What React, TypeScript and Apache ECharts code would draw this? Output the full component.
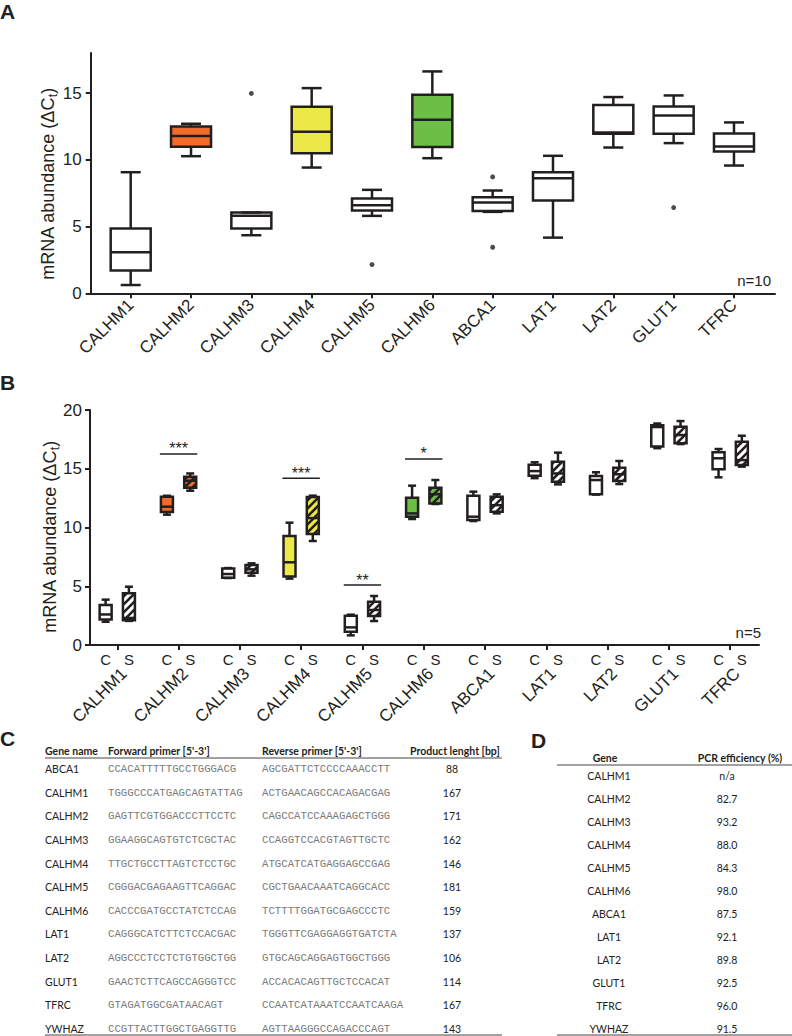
import React, { useEffect, useRef } from 'react';
import * as echarts from 'echarts';

// ---------------- DATA ----------------
const genes = ['CALHM1', 'CALHM2', 'CALHM3', 'CALHM4', 'CALHM5', 'CALHM6', 'ABCA1', 'LAT1', 'LAT2', 'GLUT1', 'TFRC'];

// Panel A box plots: [min, q1, median, q3, max]
const boxA = [
  [0.62, 1.7, 3.07, 4.85, 9.07],
  [10.27, 10.97, 11.78, 12.5, 12.7],
  [4.35, 4.85, 5.8, 6.05, 6.05],
  [9.42, 10.5, 12.1, 13.97, 15.37],
  [5.8, 6.2, 6.6, 7.1, 7.75],
  [10.12, 10.95, 13.0, 14.87, 16.62],
  [6.1, 6.17, 6.8, 7.2, 7.7],
  [4.17, 6.95, 8.62, 9.07, 10.3],
  [10.92, 11.95, 12.05, 14.1, 14.7],
  [11.25, 11.95, 13.32, 14.0, 14.82],
  [9.57, 10.62, 11.0, 11.97, 12.8],
];
// Panel A outliers: [gene position (1-based), value]
const outliersA = [[3, 14.97], [5, 2.15], [7, 8.72], [7, 3.45], [10, 6.42]];

// Panel B: control (C) and stimulated (S) box plots: [min, q1, median, q3, max]
const boxBControl = [
  [1.98, 2.18, 2.6, 3.4, 3.86],
  [11.09, 11.32, 11.77, 12.62, 12.7],
  [5.7, 5.73, 6.04, 6.52, 6.55],
  [5.65, 5.82, 7.04, 9.28, 10.41],
  [0.82, 1.13, 1.5, 2.5, 2.58],
  [10.72, 10.92, 11.2, 12.54, 13.56],
  [10.55, 10.64, 10.92, 12.71, 13.05],
  [14.2, 14.4, 14.8, 15.35, 15.55],
  [12.8, 12.82, 14.04, 14.38, 14.7],
  [16.75, 16.9, 18.55, 18.7, 18.85],
  [14.27, 14.95, 15.89, 16.4, 16.68],
];
const boxBStim = [
  [2.05, 2.1, 2.3, 4.4, 4.96],
  [13.13, 13.39, 13.98, 14.32, 14.6],
  [5.9, 6.15, 6.44, 6.8, 6.95],
  [8.85, 9.45, 10.8, 12.6, 12.71],
  [2.04, 2.47, 2.98, 3.69, 4.17],
  [12.0, 12.05, 12.83, 13.39, 14.04],
  [11.2, 11.35, 11.9, 12.62, 12.82],
  [13.67, 13.9, 14.6, 15.6, 16.37],
  [13.7, 13.96, 14.53, 15.09, 15.66],
  [17.1, 17.17, 17.87, 18.58, 19.06],
  [15.18, 15.32, 15.74, 17.3, 17.81],
];
// fill colour index per gene (0 white, 1 orange, 2 yellow, 3 green)
const fillIndex = [0, 1, 0, 2, 0, 3, 0, 0, 0, 0, 0];

// significance brackets in panel B
const sigGene = [2, 4, 5, 6];
const sigLevel = [16.26, 14.2, 5.1, 15.83];
const sigLabel = ['***', '***', '**', '*'];

const ticksA = [0, 5, 10, 15];

// Table C
const tableGenes = ['ABCA1', 'CALHM1', 'CALHM2', 'CALHM3', 'CALHM4', 'CALHM5', 'CALHM6', 'LAT1', 'LAT2', 'GLUT1', 'TFRC', 'YWHAZ'];
const forwardPrimers = [
  'CCACATTTTTGCCTGGGACG', 'TGGGCCCATGAGCAGTATTAG', 'GAGTTCGTGGACCCTTCCTC', 'GGAAGGCAGTGTCTCGCTAC',
  'TTGCTGCCTTAGTCTCCTGC', 'CGGGACGAGAAGTTCAGGAC', 'CACCCGATGCCTATCTCCAG', 'CAGGGCATCTTCTCCACGAC',
  'AGGCCCTCCTCTGTGGCTGG', 'GAACTCTTCAGCCAGGGTCC', 'GTAGATGGCGATAACAGT', 'CCGTTACTTGGCTGAGGTTG',
];
const reversePrimers = [
  'AGCGATTCTCCCCAAACCTT', 'ACTGAACAGCCACAGACGAG', 'CAGCCATCCAAAGAGCTGGG', 'CCAGGTCCACGTAGTTGCTC',
  'ATGCATCATGAGGAGCCGAG', 'CGCTGAACAAATCAGGCACC', 'TCTTTTGGATGCGAGCCCTC', 'TGGGTTCGAGGAGGTGATCTA',
  'GTGCAGCAGGAGTGGCTGGG', 'ACCACACAGTTGCTCCACAT', 'CCAATCATAAATCCAATCAAGA', 'AGTTAAGGGCCAGACCCAGT',
];
const productLengths = [88, 167, 171, 162, 146, 181, 159, 137, 106, 114, 167, 143];

// Table D
const effGenes = ['CALHM1', 'CALHM2', 'CALHM3', 'CALHM4', 'CALHM5', 'CALHM6', 'ABCA1', 'LAT1', 'LAT2', 'GLUT1', 'TFRC', 'YWHAZ'];
const efficiencies = ['n/a', '82.7', '93.2', '88.0', '84.3', '98.0', '87.5', '92.1', '89.8', '92.5', '96.0', '91.5'];

// ---------------- STYLE ----------------
const INK = '#231f20';
const FILLS = ['#ffffff', '#f26b2b', '#ece847', '#6dbe45'];
const SANS = "'Liberation Sans', Arial, sans-serif";
const TFONT = "Lato, 'Open Sans', sans-serif";
const MONO = "'Liberation Mono', monospace";
const CS_OFF = 0.19;
const SIG_HALF = 0.305;

function boxRenderer(boxW: number, capW: number, lw: number, step: number) {
  return (params: any, api: any) => {
    const x = api.value(0);
    const v = [1, 2, 3, 4, 5].map((i) => api.value(i));
    const fill = FILLS[api.value(6)];
    const hatched = api.value(7) === 1;
    const pMin = api.coord([x, v[0]]);
    const pQ1 = api.coord([x, v[1]]);
    const pMed = api.coord([x, v[2]]);
    const pQ3 = api.coord([x, v[3]]);
    const pMax = api.coord([x, v[4]]);
    const cx = pMin[0];
    const x0 = cx - boxW / 2;
    const y0 = pQ3[1];
    const w = boxW;
    const h = pQ1[1] - pQ3[1];
    const children: any[] = [];
    const ln = (x1: number, y1: number, x2: number, y2: number, width = lw) => ({
      type: 'line',
      shape: { x1, y1, x2, y2 },
      style: { stroke: INK, lineWidth: width },
    });
    children.push({ type: 'rect', shape: { x: x0, y: y0, width: w, height: h }, style: { fill, stroke: 'none' } });
    if (hatched) {
      const cStart = Math.ceil((x0 + y0) / step);
      const cEnd = Math.floor((x0 + w + y0 + h) / step);
      for (let k = cStart; k <= cEnd; k++) {
        const c = k * step;
        const xa = Math.max(x0, c - (y0 + h));
        const xb = Math.min(x0 + w, c - y0);
        if (xb > xa) children.push(ln(xa, c - xa, xb, c - xb, 2.6));
      }
    }
    children.push(ln(cx, pMax[1], cx, pQ3[1]));
    children.push(ln(cx, pQ1[1], cx, pMin[1]));
    children.push(ln(cx - capW / 2, pMax[1], cx + capW / 2, pMax[1]));
    children.push(ln(cx - capW / 2, pMin[1], cx + capW / 2, pMin[1]));
    children.push({ type: 'rect', shape: { x: x0, y: y0, width: w, height: h }, style: { fill: 'none', stroke: INK, lineWidth: lw } });
    children.push(ln(x0, pMed[1], x0 + w, pMed[1]));
    return { type: 'group', children };
  };
}

function buildOption() {
  const positions = genes.map((_, i) => i + 1);
  const dataA = boxA.map((b, i) => [i + 1, ...b, fillIndex[i], 0]);
  const dataBC = boxBControl.map((b, i) => [i + 1 - CS_OFF, ...b, fillIndex[i], 0]);
  const dataBS = boxBStim.map((b, i) => [i + 1 + CS_OFF, ...b, fillIndex[i], 1]);
  const sigData = sigGene.map((g, i) => [g, sigLevel[i]]);
  const csValues: number[] = [];
  positions.forEach((p) => { csValues.push(p - CS_OFF); csValues.push(p + CS_OFF); });

  const axisLineStyle = { color: INK, width: 2 };
  const nameRich = {
    a: { fontSize: 18, fontFamily: SANS, color: INK, lineHeight: 22 },
    b: { fontSize: 12, fontFamily: SANS, color: INK, verticalAlign: 'bottom', lineHeight: 12 },
  };

  const graphic: any[] = [];
  const txt = (text: string, x: number, y: number, o: any = {}) => ({
    type: 'text', silent: true, x, y, rotation: o.rotation || 0,
    style: {
      text, fill: o.fill || INK, fontSize: o.fontSize || 15, fontFamily: o.fontFamily || SANS,
      fontWeight: o.fontWeight || 'normal',
      align: o.align || 'left', verticalAlign: 'middle', textAlign: o.align || 'left', textVerticalAlign: 'middle',
      rich: o.rich,
    },
  });
  const hline = (x1: number, x2: number, y: number, color = '#444', width = 1) => ({
    type: 'line', silent: true, shape: { x1, y1: y, x2, y2: y }, style: { stroke: color, lineWidth: width },
  });

  // panel letters
  graphic.push(txt('A', 0, 11, { fontSize: 21, fontWeight: 'bold' }));
  graphic.push(txt('B', 0, 382, { fontSize: 21, fontWeight: 'bold' }));
  graphic.push(txt('C', 0, 738, { fontSize: 21, fontWeight: 'bold' }));
  graphic.push(txt('D', 531, 740, { fontSize: 21, fontWeight: 'bold' }));
  // y axis titles
  const yName = '{a|mRNA abundance (ΔC}{b|t}{a|)}';
  graphic.push(txt(yName, 48, 184, { rotation: Math.PI / 2, align: 'center', rich: nameRich }));
  graphic.push(txt(yName, 50, 537, { rotation: Math.PI / 2, align: 'center', rich: nameRich }));
  // n labels
  graphic.push(txt('n=10', 771, 280, { align: 'right', fontSize: 15 }));
  graphic.push(txt('n=5', 761, 632, { align: 'right', fontSize: 15 }));

  // Table C
  const cHeadY = 751;
  const cRow0 = 769;
  const cStep = 23.64;
  const hdr = { fontFamily: TFONT, fontWeight: 'bold', fontSize: 10.5 };
  graphic.push(txt('Gene name', 45, cHeadY, hdr));
  graphic.push(txt("Forward primer [5'-3']", 108, cHeadY, hdr));
  graphic.push(txt("Reverse primer [5'-3']", 262, cHeadY, hdr));
  graphic.push(txt('Product lenght [bp]', 410, cHeadY, hdr));
  graphic.push(hline(45, 502, 758));
  tableGenes.forEach((g, i) => {
    const y = cRow0 + i * cStep;
    graphic.push(txt(g, 45, y, { fontFamily: TFONT, fontSize: 10.5, fill: '#222' }));
    graphic.push(txt(forwardPrimers[i], 108, y, { fontFamily: MONO, fontSize: 10.7, fill: '#7a7a7a' }));
    graphic.push(txt(reversePrimers[i], 262, y, { fontFamily: MONO, fontSize: 10.7, fill: '#7a7a7a' }));
    graphic.push(txt(String(productLengths[i]), 452, y, { fontFamily: TFONT, fontSize: 10.5, fill: '#222', align: 'center' }));
  });
  graphic.push(hline(45, 502, 1035));

  // Table D
  const dHeadY = 758;
  const dRow0 = 776;
  const dStep = 23.0;
  graphic.push(txt('Gene', 605, dHeadY, { ...hdr, align: 'center' }));
  graphic.push(txt('PCR efficiency (%)', 740, dHeadY, { ...hdr, align: 'center' }));
  graphic.push(hline(557, 792, 765));
  effGenes.forEach((g, i) => {
    const y = dRow0 + i * dStep;
    graphic.push(txt(g, 609, y, { fontFamily: TFONT, fontSize: 10.5, fill: '#222', align: 'center' }));
    graphic.push(txt(efficiencies[i], 727, y, { fontFamily: TFONT, fontSize: 10.5, fill: '#222', align: 'center' }));
  });
  graphic.push(hline(557, 792, 1035));

  return {
    animation: false,
    backgroundColor: '#ffffff',
    grid: [
      { left: 90.7, top: 53, width: 775 - 90.7, height: 293.3 - 53, outerBoundsMode: 'none', containLabel: false },
      { left: 90, top: 410, width: 759 - 90, height: 645 - 410, outerBoundsMode: 'none', containLabel: false },
    ],
    xAxis: [
      {
        type: 'value', gridIndex: 0, min: 0.337, max: 11.68,
        axisLine: { show: true, onZero: false, lineStyle: axisLineStyle },
        axisTick: { show: true, customValues: positions, length: 5, lineStyle: axisLineStyle },
        axisLabel: {
          show: true, customValues: positions, rotate: 45, margin: 9, fontSize: 17, color: INK, fontFamily: SANS,
          formatter: (v: number) => genes[Math.round(v) - 1] || '',
        },
        splitLine: { show: false },
      },
      {
        type: 'value', gridIndex: 1, min: 0.555, max: 11.47,
        axisLine: { show: true, onZero: false, lineStyle: axisLineStyle },
        axisTick: { show: true, customValues: positions, length: 5, lineStyle: axisLineStyle },
        axisLabel: {
          show: true, customValues: positions.map((p) => p + 0.11), rotate: 45, margin: 26, fontSize: 17, color: INK, fontFamily: SANS,
          formatter: (v: number) => genes[Math.round(v) - 1] || '',
        },
        splitLine: { show: false },
      },
      {
        type: 'value', gridIndex: 1, min: 0.555, max: 11.47, position: 'bottom', offset: 0,
        axisLine: { show: false },
        axisTick: { show: false },
        axisLabel: {
          show: true, customValues: csValues, margin: 7, fontSize: 15, color: INK, fontFamily: SANS,
          formatter: (v: number) => (v - Math.round(v) < 0 ? 'C' : 'S'),
        },
        splitLine: { show: false },
      },
    ],
    yAxis: [
      {
        type: 'value', gridIndex: 0, min: 0, max: 18,
        axisLine: { show: true, lineStyle: axisLineStyle },
        axisTick: { show: true, customValues: ticksA, length: 5, lineStyle: axisLineStyle },
        axisLabel: { show: true, customValues: ticksA, margin: 9, fontSize: 17, color: INK, fontFamily: SANS },
        splitLine: { show: false },
      },
      {
        type: 'value', gridIndex: 1, min: 0, max: 20, interval: 5,
        axisLine: { show: true, lineStyle: axisLineStyle },
        axisTick: { show: true, length: 5, lineStyle: axisLineStyle },
        axisLabel: { show: true, margin: 8, fontSize: 17, color: INK, fontFamily: SANS },
        splitLine: { show: false },
      },
    ],
    graphic,
    series: [
      {
        type: 'custom', name: 'A boxes', xAxisIndex: 0, yAxisIndex: 0,
        encode: { x: 0, y: [1, 2, 3, 4, 5] },
        renderItem: boxRenderer(40, 20, 2.5, 9),
        data: dataA,
      },
      {
        type: 'scatter', name: 'A outliers', xAxisIndex: 0, yAxisIndex: 0,
        symbol: 'circle', symbolSize: 5, itemStyle: { color: INK },
        data: outliersA,
      },
      {
        type: 'custom', name: 'B control', xAxisIndex: 1, yAxisIndex: 1,
        encode: { x: 0, y: [1, 2, 3, 4, 5] },
        renderItem: boxRenderer(12, 8, 2.5, 8),
        data: dataBC,
      },
      {
        type: 'custom', name: 'B stim', xAxisIndex: 1, yAxisIndex: 1,
        encode: { x: 0, y: [1, 2, 3, 4, 5] },
        renderItem: boxRenderer(12, 8, 2.5, 8),
        data: dataBS,
      },
      {
        type: 'custom', name: 'significance', xAxisIndex: 1, yAxisIndex: 1,
        encode: { x: 0, y: 1 },
        renderItem: (params: any, api: any) => {
          const g = api.value(0);
          const lvl = api.value(1);
          const a = api.coord([g - SIG_HALF, lvl]);
          const b = api.coord([g + SIG_HALF, lvl]);
          return {
            type: 'group',
            children: [
              { type: 'line', shape: { x1: a[0], y1: a[1], x2: b[0], y2: b[1] }, style: { stroke: INK, lineWidth: 1.5 } },
              {
                type: 'text', x: (a[0] + b[0]) / 2, y: a[1] + 3,
                style: {
                  text: sigLabel[params.dataIndex], fill: INK, fontSize: 16, fontFamily: SANS,
                  align: 'center', verticalAlign: 'bottom', textAlign: 'center', textVerticalAlign: 'bottom',
                },
              },
            ],
          };
        },
        data: sigData,
      },
    ],
  };
}

export default function App() {
  const ref = useRef<HTMLDivElement>(null);
  useEffect(() => {
    document.body.style.margin = '0';
    const chart = echarts.init(ref.current as HTMLDivElement, null, { renderer: 'svg' });
    chart.setOption(buildOption() as any);
    return () => chart.dispose();
  }, []);
  return <div ref={ref} style={{ width: 792, height: 1036 }} />;
}
